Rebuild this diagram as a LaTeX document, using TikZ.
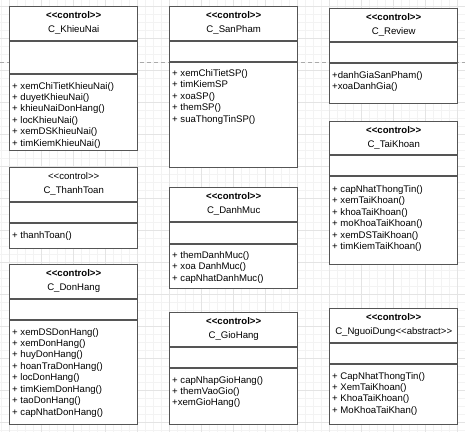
\documentclass[tikz,border=0pt]{standalone}
\usepackage{fontspec}
\setmainfont{Liberation Sans}
\usetikzlibrary{calc}
\definecolor{boxline}{HTML}{555555}
\definecolor{gridminor}{HTML}{F3F3F3}
\definecolor{gridmajor}{HTML}{E4E4E4}
\definecolor{dashcol}{HTML}{AAAAAA}
\tikzset{
  classbox/.style={draw=boxline, line width=1.4pt, fill=white, minimum width=128pt, inner sep=0pt, anchor=north west},
  divline/.style={draw=boxline, line width=1.4pt},
  txt/.style={inner sep=0pt, font=\fontsize{9.6}{11.4}\selectfont},
  stereob/.style={txt, anchor=base, font=\fontsize{9.6}{11.4}\selectfont\bfseries},
  stereon/.style={txt, anchor=base},
  cname/.style={txt, anchor=base},
  meth/.style={txt, anchor=base west},
}
% id, x, top, d1, d2, bottom
\newcommand\classbox[6]{%
  \pgfmathsetmacro\hh{#6-#3}%
  \node[classbox, minimum height=\hh pt] (#1) at (#2,#3) {};
  \draw[divline] ($(#1.north west)+(0,#4-#3)$) -- ($(#1.north east)+(0,#4-#3)$);
  \draw[divline] ($(#1.north west)+(0,#5-#3)$) -- ($(#1.north east)+(0,#5-#3)$);
}
% id, stereo style, name
\newcommand\classhead[3]{%
  \node[#2] (#1-st) at ($(#1.north)+(0,12)$) {<{}<control>{}>};
  \node[cname] (#1-nm) at ($(#1.north)+(0,26)$) {#3};
}
% id, offset of first baseline from top, list
\newcommand\classmeth[3]{%
  \foreach \m [count=\i] in {#3}{
    \pgfmathsetmacro\yy{#2+(\i-1)*11.45}
    \node[meth] (#1-m\i) at ($(#1.north west)+(3,\yy)$) {\m};
  }
}
\begin{document}
\begin{tikzpicture}[x=1pt,y=-1pt]
\useasboundingbox (0,0) rectangle (465,432);
\fill[white] (0,0) rectangle (465,432);
% grid
\foreach \gx in {1,9,...,465} \draw[gridminor, line width=0.6pt] (\gx,0) -- (\gx,432);
\foreach \gy in {6,14,...,432} \draw[gridminor, line width=0.6pt] (0,\gy) -- (465,\gy);
\foreach \gx in {9,41,...,465} \draw[gridmajor, line width=0.6pt] (\gx,0) -- (\gx,432);
\foreach \gy in {6,38,...,432} \draw[gridmajor, line width=0.6pt] (0,\gy) -- (465,\gy);
\coordinate (dl) at (0,62);
\coordinate (dr) at (465,62);
\draw[dashcol, line width=0.8pt, dash pattern=on 4pt off 3pt] (dl) -- (dr);

% C_KhieuNai
\classbox{kn}{9}{6}{41}{74}{150}
\classhead{kn}{stereob}{C\_KhieuNai}
\classmeth{kn}{83}{+ xemChiTietKhieuNai(),+ duyetKhieuNai(),+ khieuNaiDonHang(),+ locKhieuNai(),+ xemDSKhieuNai(),+ timKiemKhieuNai()}

% C_SanPham
\classbox{sp}{169}{6}{41}{62}{167}
\classhead{sp}{stereob}{C\_SanPham}
\classmeth{sp}{70.5}{+ xemChiTietSP(),+ timKiemSP,+ xoaSP(),+ themSP(),+ suaThongTinSP()}

% C_Review
\classbox{rv}{329}{8}{42}{63}{103}
\classhead{rv}{stereob}{C\_Review}
\classmeth{rv}{70}{+danhGiaSanPham(),+xoaDanhGia()}

% C_TaiKhoan
\classbox{tk}{329}{121}{155}{176}{264}
\classhead{tk}{stereob}{C\_TaiKhoan}
\classmeth{tk}{71.5}{+ capNhatThongTin(),+ xemTaiKhoan(),+ khoaTaiKhoan(),+ moKhoaTaiKhoan(),+ xemDSTaiKhoan(),+ timKiemTaiKhoan()}

% C_ThanhToan
\classbox{tt}{9}{167}{202}{223}{248}
\classhead{tt}{stereon}{C\_ThanhToan}
\classmeth{tt}{71}{+ thanhToan()}

% C_DonHang
\classbox{dh}{9}{264}{299}{320}{424}
\classhead{dh}{stereob}{C\_DonHang}
\classmeth{dh}{71}{+ xemDSDonHang(),+ xemDonHang(),+ huyDonHang(),+ hoanTraDonHang(),+ locDonHang(),+ timKiemDonHang(),+ taoDonHang(),+ capNhatDonHang()}

% C_DanhMuc
\classbox{dm}{169}{187}{222}{244}{288}
\classhead{dm}{stereob}{C\_DanhMuc}
\classmeth{dm}{71.5}{+ themDanhMuc(),+ xoa DanhMuc(),+ capNhatDanhMuc()}

% C_GioHang
\classbox{gh}{169}{312}{347}{368}{424}
\classhead{gh}{stereob}{C\_GioHang}
\classmeth{gh}{71}{+ capNhapGioHang(),+ themVaoGio(),+xemGioHang()}

% C_NguoiDung
\classbox{nd}{329}{308}{343}{364}{424}
\classhead{nd}{stereob}{C\_NguoiDung<{}<abstract>{}>}
\classmeth{nd}{71}{+ CapNhatThongTin(),+ XemTaiKhoan(),+ KhoaTaiKhoan(),+ MoKhoaTaiKhan()}
\end{tikzpicture}
\end{document}
